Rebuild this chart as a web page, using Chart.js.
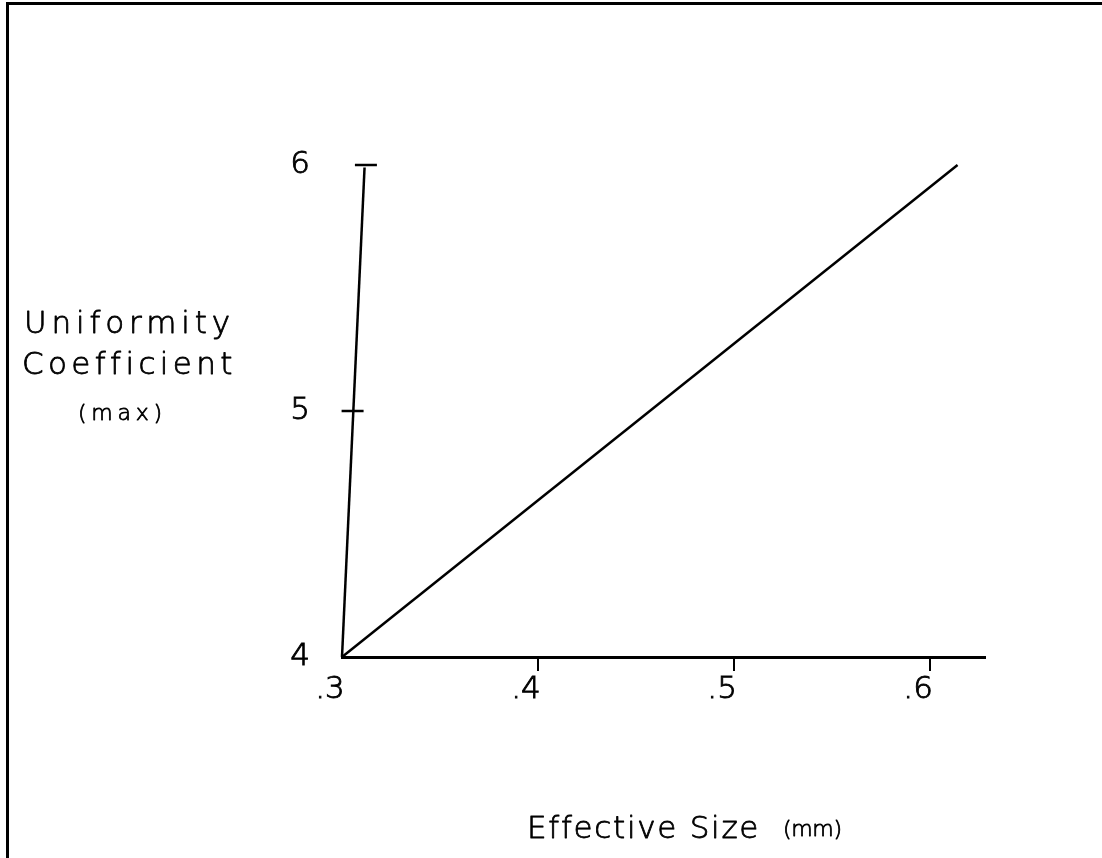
<!DOCTYPE html>
<html>
<head>
<meta charset="utf-8">
<script src="https://cdn.jsdelivr.net/npm/chart.js@4.4.0/dist/chart.umd.min.js"></script>
<style>
html,body{margin:0;padding:0;background:#fff;}
#wrap{position:relative;width:1102px;height:858px;overflow:hidden;background:#fff;}
#frame{position:absolute;left:6px;top:2px;width:1200px;height:900px;border-top:3px solid #000;border-left:3px solid #000;pointer-events:none;}
canvas{position:absolute;left:0;top:0;}
</style>
</head>
<body>
<div id="wrap"><canvas id="c" width="1102" height="858" style="width:1102px;height:858px"></canvas><div id="frame"></div></div>
<script>
// ---- data ----
const xRange = [0.3, 0.628];
const yRange = [4, 6];
const xTickValues = [0.3, 0.4, 0.5, 0.6];
const xTickLabels = ['.3', '.4', '.5', '.6'];
const yTickValues = [4, 5, 6];
const yTickLabels = ['4', '5', '6'];
// main relationship line
const lineX = [0.3, 0.614];
const lineY = [4, 6];
// hand-drawn (slanted) vertical axis
const yAxisLineX = [0.3, 0.3115];
const yAxisLineY = [4, 5.99];
// short tick dashes on the hand-drawn axis
const yTickMarkX = [0.3054, 0.3122];
const yTickMarkY = [5, 6];
// titles
const yTitleLines = ['Uniformity', 'Coefficient', '(max)'];
const xTitleMain = 'Effective Size';
const xTitleUnit = '(mm)';

const FONT = '"DejaVu Sans", "Liberation Sans", sans-serif';
const zip = (xs, ys) => xs.map((x, i) => ({x: x, y: ys[i]}));

function fitText(ctx, text, x, baseline, size, targetWidth) {
  ctx.font = '200 ' + size + 'px ' + FONT;
  ctx.letterSpacing = '0px';
  const w = ctx.measureText(text).width;
  const n = Math.max(1, text.length - 1);
  const ls = (targetWidth - w) / n;
  ctx.letterSpacing = ls.toFixed(2) + 'px';
  ctx.fillText(text, x, baseline);
  ctx.strokeText(text, x, baseline);
  ctx.letterSpacing = '0px';
}

const titlePlugin = {
  id: 'titles',
  afterDraw(chart) {
    const ctx = chart.ctx;
    ctx.save();
    ctx.fillStyle = '#000';
    ctx.strokeStyle = '#000';
    ctx.lineWidth = 0.8;
    ctx.lineJoin = 'round';
    ctx.textAlign = 'left';
    ctx.textBaseline = 'alphabetic';
    fitText(ctx, yTitleLines[0], 24, 333, 31, 206);
    fitText(ctx, yTitleLines[1], 22, 374, 31, 210);
    fitText(ctx, yTitleLines[2], 78, 420, 22, 84);
    fitText(ctx, xTitleMain, 527, 838, 31, 231);
    fitText(ctx, xTitleUnit, 783, 836, 22, 59);
    ctx.restore();
  }
};

new Chart(document.getElementById('c'), {
  type: 'scatter',
  data: {
    datasets: [
      {
        label: 'Uniformity coefficient (max)',
        data: zip(lineX, lineY),
        showLine: true,
        borderColor: '#000',
        borderWidth: 2.5,
        pointRadius: 0,
        clip: false
      },
      {
        label: 'axis',
        data: zip(yAxisLineX, yAxisLineY),
        showLine: true,
        borderColor: '#000',
        borderWidth: 2.5,
        pointRadius: 0,
        clip: false
      },
      {
        label: 'axis ticks',
        data: zip(yTickMarkX, yTickMarkY),
        showLine: false,
        pointStyle: 'line',
        pointRadius: 11,
        borderColor: '#000',
        backgroundColor: '#000',
        borderWidth: 2.5,
        clip: false
      }
    ]
  },
  options: {
    responsive: false,
    animation: false,
    events: [],
    layout: {padding: {top: 165, right: 117, left: 0, bottom: 0}},
    plugins: {legend: {display: false}, tooltip: {enabled: false}, title: {display: false}},
    scales: {
      x: {
        type: 'linear',
        min: xRange[0],
        max: xRange[1],
        afterBuildTicks: s => { s.ticks = xTickValues.map(v => ({value: v})); },
        afterFit: s => { s.height = 201; },
        border: {display: true, color: '#000', width: 3},
        grid: {
          drawOnChartArea: false,
          drawTicks: true,
          tickLength: 14,
          lineWidth: 2,
          color: c => (c.tick && Math.abs(c.tick.value - xTickValues[0]) < 1e-9) ? 'rgba(0,0,0,0)' : '#000'
        },
        ticks: {
          color: '#000',
          textStrokeColor: '#000',
          textStrokeWidth: 0.9,
          font: {family: FONT, size: 31, weight: '200'},
          padding: 0,
          labelOffset: -12,
          maxRotation: 0,
          autoSkip: false,
          callback: (v, i) => xTickLabels[i]
        }
      },
      y: {
        type: 'linear',
        min: yRange[0],
        max: yRange[1],
        afterBuildTicks: s => { s.ticks = yTickValues.map(v => ({value: v})); },
        afterFit: s => { s.width = 342; },
        border: {display: false},
        grid: {display: false, drawTicks: false},
        ticks: {
          color: '#000',
          textStrokeColor: '#000',
          textStrokeWidth: 0.9,
          font: {family: FONT, size: 31, weight: '200'},
          padding: 32,
          autoSkip: false,
          callback: (v, i) => yTickLabels[i]
        }
      }
    }
  },
  plugins: [titlePlugin]
});
</script>
</body>
</html>
